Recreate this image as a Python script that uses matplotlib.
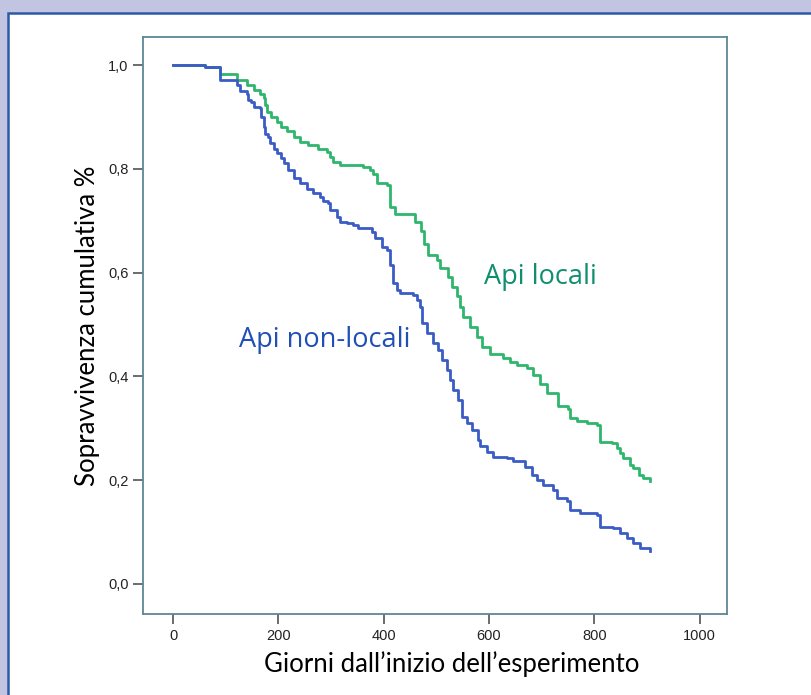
import matplotlib
matplotlib.use('Agg')
import matplotlib.pyplot as plt
from matplotlib.patches import Rectangle
from matplotlib.ticker import FuncFormatter

# Kaplan-Meier steps (day, cumulative survival after the step)
locali_days = [0, 60, 89, 121, 140, 153, 165, 172, 175, 178, 187, 197, 206, 216, 229, 241,
               257, 276, 292, 298, 304, 317, 361, 374, 380, 387, 406, 412, 422, 460, 470,
               476, 485, 501, 507, 523, 529, 539, 545, 551, 564, 577, 586, 602, 627, 640,
               653, 672, 684, 697, 710, 732, 751, 754, 767, 786, 805, 811, 833, 843, 849,
               855, 868, 874, 884, 893, 906]
locali_surv = [1.0, 0.997, 0.983, 0.971, 0.961, 0.952, 0.945, 0.936, 0.923, 0.910, 0.900,
               0.891, 0.881, 0.872, 0.862, 0.852, 0.846, 0.839, 0.833, 0.823, 0.814, 0.807,
               0.804, 0.798, 0.790, 0.772, 0.769, 0.726, 0.713, 0.698, 0.680, 0.655, 0.634,
               0.624, 0.608, 0.592, 0.573, 0.554, 0.534, 0.515, 0.496, 0.476, 0.457, 0.444,
               0.435, 0.428, 0.422, 0.416, 0.403, 0.385, 0.367, 0.342, 0.338, 0.319, 0.313,
               0.310, 0.306, 0.274, 0.271, 0.261, 0.252, 0.242, 0.229, 0.223, 0.210, 0.204,
               0.199]

nonlocali_days = [0, 60, 89, 121, 127, 140, 143, 149, 153, 165, 168, 172, 175, 181, 184, 191,
                  197, 206, 210, 219, 229, 241, 254, 266, 279, 285, 295, 298, 311, 317, 330,
                  342, 352, 377, 384, 396, 406, 412, 418, 425, 431, 456, 463, 469, 472, 482,
                  494, 504, 510, 520, 526, 532, 542, 548, 558, 567, 580, 583, 596, 608, 634,
                  646, 669, 681, 691, 703, 722, 729, 748, 754, 773, 805, 811, 836, 849, 862,
                  874, 887, 906]
nonlocali_surv = [1.0, 0.997, 0.971, 0.961, 0.949, 0.945, 0.933, 0.929, 0.920, 0.917, 0.900,
                  0.881, 0.868, 0.862, 0.849, 0.839, 0.830, 0.820, 0.811, 0.798, 0.782, 0.772,
                  0.762, 0.753, 0.746, 0.737, 0.734, 0.721, 0.708, 0.698, 0.695, 0.692, 0.685,
                  0.679, 0.666, 0.650, 0.644, 0.615, 0.579, 0.566, 0.560, 0.557, 0.547, 0.534,
                  0.502, 0.483, 0.464, 0.451, 0.432, 0.412, 0.393, 0.374, 0.355, 0.322, 0.310,
                  0.297, 0.277, 0.265, 0.255, 0.245, 0.242, 0.236, 0.226, 0.210, 0.200, 0.191,
                  0.181, 0.165, 0.159, 0.143, 0.136, 0.133, 0.110, 0.107, 0.098, 0.088, 0.078,
                  0.069, 0.064]

x_ticks = [0, 200, 400, 600, 800, 1000]
y_ticks = [0.0, 0.2, 0.4, 0.6, 0.8, 1.0]

GREEN = '#2fb56c'
BLUE = '#3a5cc4'
SPINE = '#5e8795'

fig = plt.figure(figsize=(8.11, 6.95), dpi=100, facecolor='#c2c5e1')

# white panel with blue border, drawn behind the axes
panel = Rectangle((8 / 811, -0.05), 1.1, 1 - 13 / 695 + 0.05, transform=fig.transFigure,
                  facecolor='white', edgecolor='#2b5aa6', linewidth=1.8, zorder=-10)
fig.patches.append(panel)

ax = fig.add_axes([143 / 811, 1 - 614 / 695, 584 / 811, 577 / 695])
ax.set_zorder(1)
ax.set_facecolor('white')

ax.plot(locali_days, locali_surv, drawstyle='steps-post', color=GREEN, linewidth=2.0)
ax.plot(nonlocali_days, nonlocali_surv, drawstyle='steps-post', color=BLUE, linewidth=2.0)

ax.text(697, 0.592, 'Api locali', color='#0f8f6e', fontsize=19.5, family='Open Sans',
        ha='center', va='center')
ax.text(289, 0.47, 'Api non-locali', color='#2050b5', fontsize=19.5, family='Open Sans',
        ha='center', va='center')

ax.set_xlim(-57, 1052)
ax.set_ylim(-0.058, 1.054)
ax.set_xticks(x_ticks)
ax.set_yticks(y_ticks)
ax.yaxis.set_major_formatter(FuncFormatter(lambda v, p: f'{v:.1f}'.replace('.', ',')))

for s in ax.spines.values():
    s.set_color(SPINE)
    s.set_linewidth(1.3)
ax.tick_params(axis='both', direction='out', length=7, width=1.1, color='#444444',
               labelsize=10.5, labelcolor='#222222')
for lab in ax.get_xticklabels() + ax.get_yticklabels():
    lab.set_family('Liberation Sans')

ax.set_xlabel('Giorni dall\u2019inizio dell\u2019esperimento', fontsize=18.5, family='Lato',
              color='black')
ax.xaxis.set_label_coords(0.529, -0.064)
ax.set_ylabel('Sopravvivenza cumulativa %', fontsize=18.5, family='Lato', color='black',
              labelpad=6)

plt.savefig('out.png', dpi=100, facecolor=fig.get_facecolor())
